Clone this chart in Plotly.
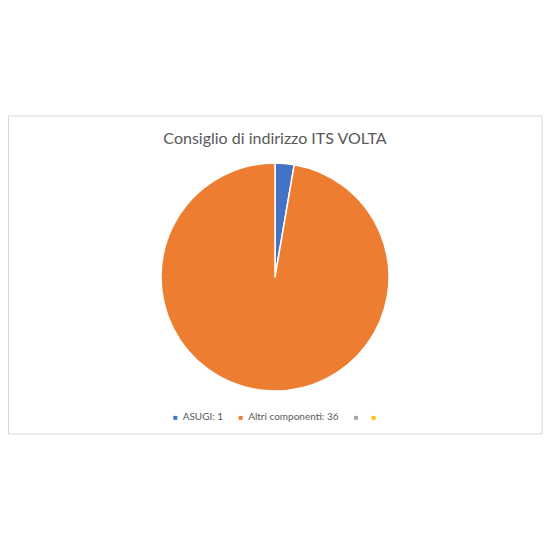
import plotly.graph_objects as go

# --- DATA ---
categories = ["ASUGI", "Altri componenti", "", ""]
values = [1, 36, 0, 0]
colors = ["#4472C4", "#ED7D31", "#A5A5A5", "#FFC000"]
title_text = "Consiglio di indirizzo ITS VOLTA"

font_main = "Lato, Calibri, sans-serif"
text_gray = "#595959"

W = H = 543
OFF = 8  # page body margin


def px_x(x):
    return (x - OFF) / W


def px_y(y):
    return 1 - (y - OFF) / H


pie_labels = [c for c, v in zip(categories, values) if v > 0]
pie_values = [v for v in values if v > 0]
pie_colors = [col for col, v in zip(colors, values) if v > 0]

fig = go.Figure()

fig.add_trace(go.Pie(
    labels=pie_labels, values=pie_values,
    marker=dict(colors=pie_colors, line=dict(color="white", width=1.5)),
    sort=False, direction="clockwise", rotation=0,
    textinfo="none", showlegend=False,
    domain=dict(x=[px_x(161), px_x(389)], y=[px_y(391), px_y(163)]),
))

# Excel-style legend (includes the empty series)
legend_text = ""
for i, (cat, val, col) in enumerate(zip(categories, values, colors)):
    sq = f'<span style="color:{col};font-size:8px">■</span>'
    if i > 0:
        legend_text += "&nbsp;" * (6 if categories[i - 1] else 5)
    legend_text += f"{sq}&nbsp;&nbsp;{cat}: {val}" if cat else sq

fig.update_layout(
    width=W, height=H,
    margin=dict(l=0, r=0, t=0, b=0),
    paper_bgcolor="white", plot_bgcolor="white",
    font=dict(family=font_main, color=text_gray),
    title=dict(text=title_text, x=px_x(275), xanchor="center", y=px_y(138), yanchor="middle",
               font=dict(size=16, color=text_gray, family=font_main)),
    showlegend=False,
    annotations=[dict(text=legend_text, xref="paper", yref="paper",
                      x=px_x(275), y=px_y(416), xanchor="center", yanchor="middle",
                      showarrow=False, font=dict(size=10, color=text_gray, family=font_main))],
    shapes=[dict(type="rect", xref="paper", yref="paper",
                 x0=px_x(8.5), x1=px_x(542), y0=px_y(434), y1=px_y(116),
                 line=dict(color="#D9D9D9", width=1), fillcolor="rgba(0,0,0,0)", layer="below")],
)

fig.write_html("out.html")
